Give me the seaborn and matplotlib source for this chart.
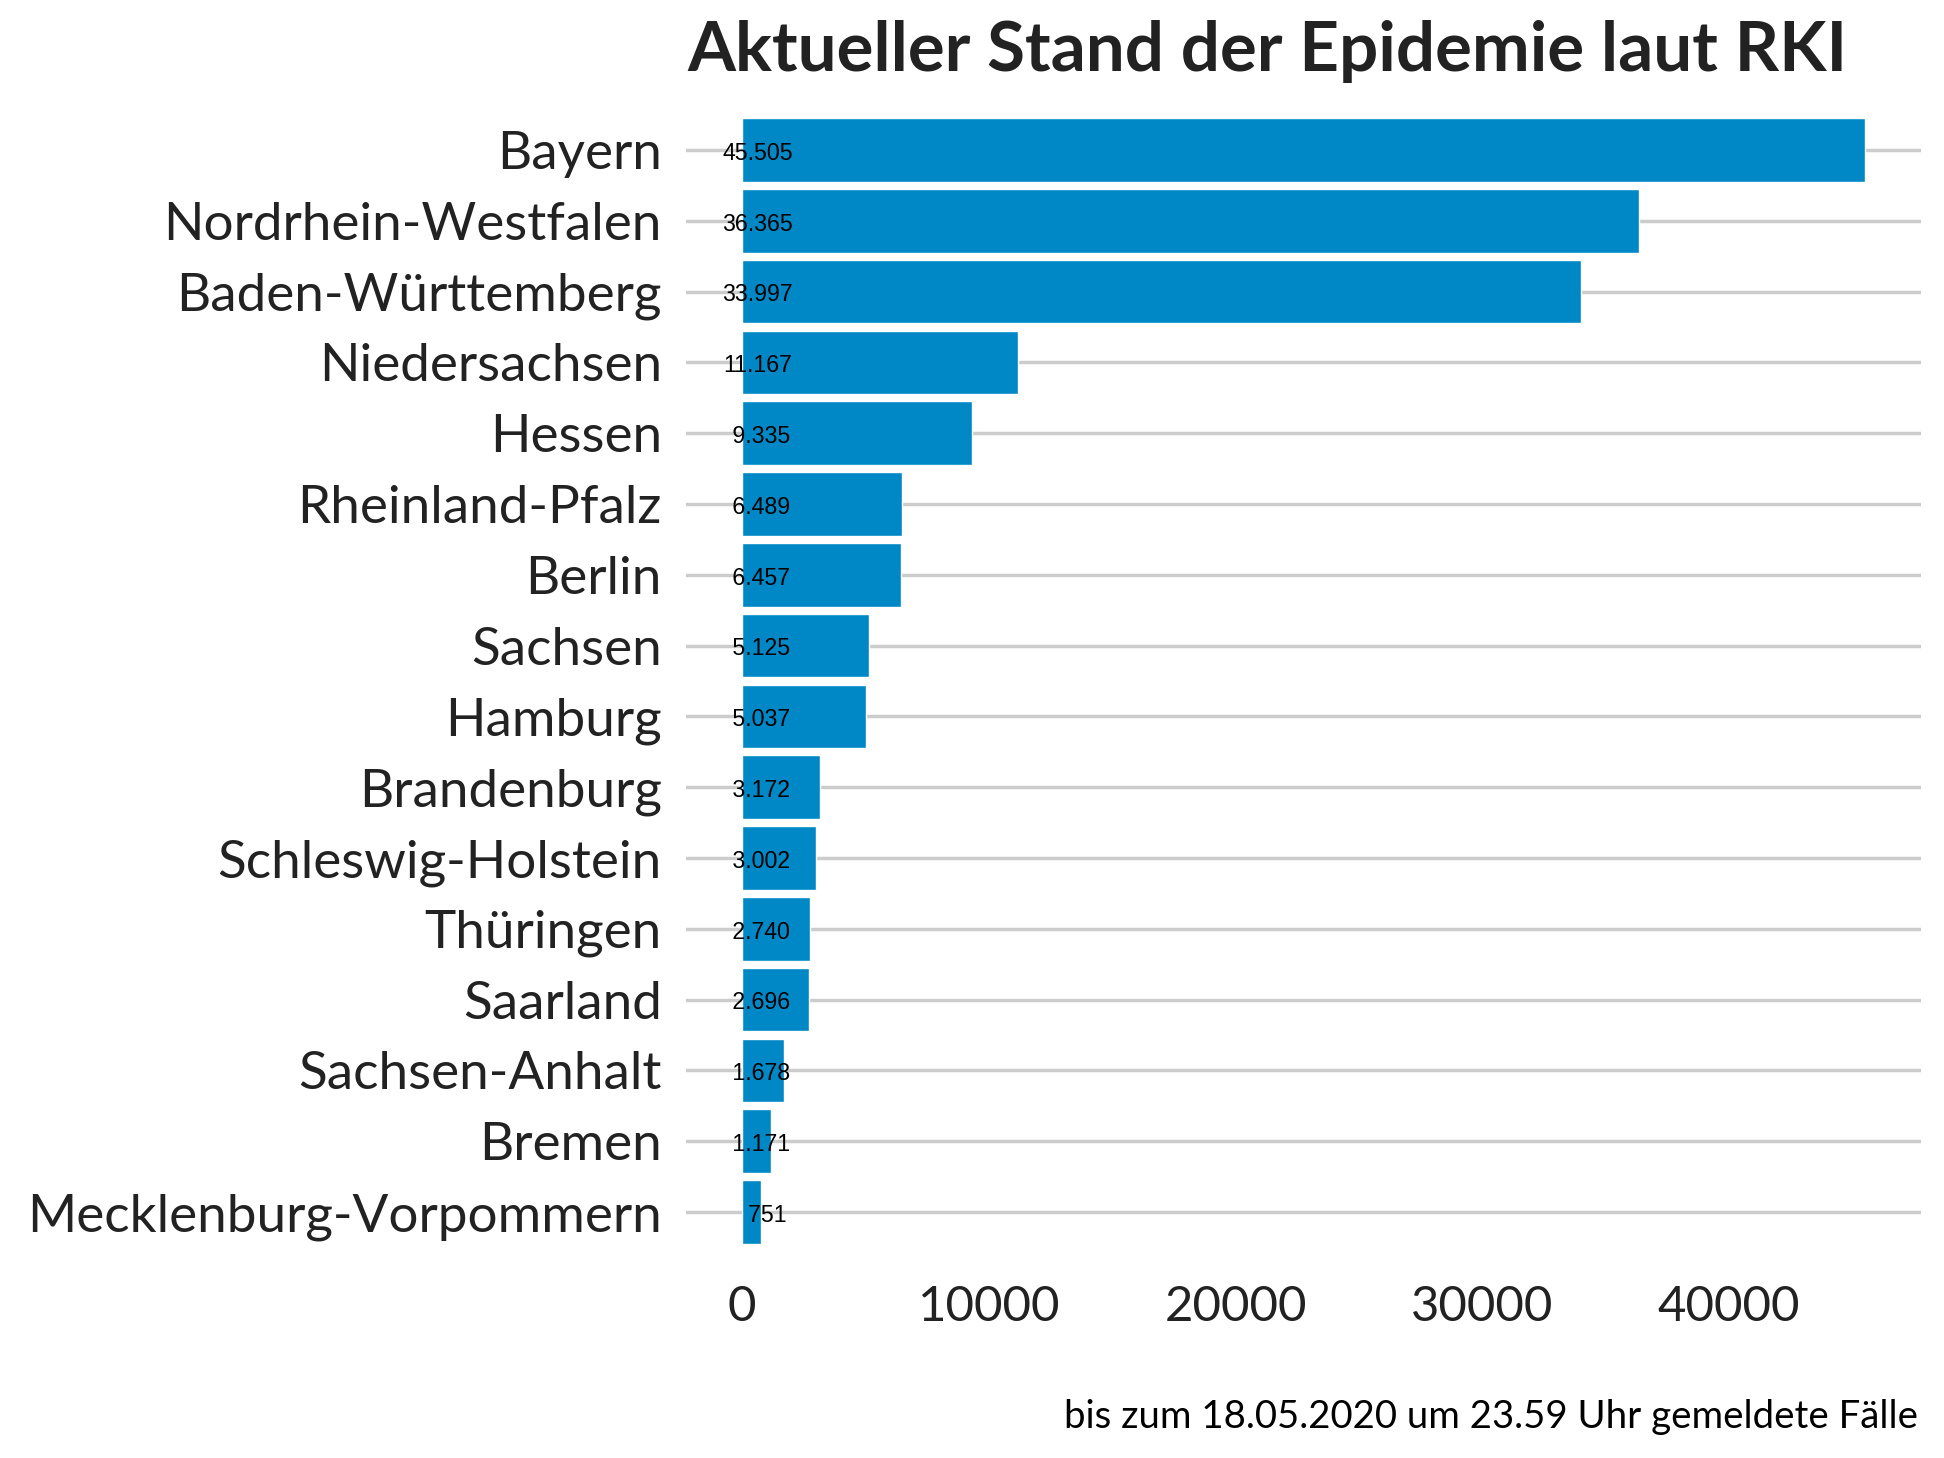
import matplotlib
matplotlib.use("Agg")
import matplotlib.pyplot as plt
import matplotlib.transforms as mtransforms
import seaborn as sns
import pandas as pd

# ---- data ----
states = ["Bayern", "Nordrhein-Westfalen", "Baden-Württemberg", "Niedersachsen",
          "Hessen", "Rheinland-Pfalz", "Berlin", "Sachsen", "Hamburg",
          "Brandenburg", "Schleswig-Holstein", "Thüringen", "Saarland",
          "Sachsen-Anhalt", "Bremen", "Mecklenburg-Vorpommern"]
cases = [45505, 36365, 33997, 11167, 9335, 6489, 6457, 5125, 5037,
         3172, 3002, 2740, 2696, 1678, 1171, 751]
x_ticks = [0, 10000, 20000, 30000, 40000]
title_text = "Aktueller Stand der Epidemie laut RKI"
caption_text = "bis zum 18.05.2020 um 23.59 Uhr gemeldete Fälle"

df = pd.DataFrame({"state": states, "cases": cases})

sns.set_style("white")
plt.rcParams["font.family"] = ["Lato", "DejaVu Sans"]

W, H = 1944, 1458
fig = plt.figure(figsize=(W / 100, H / 100), dpi=100)

# panel in pixel coordinates (from top-left)
pl, pr, pt, pb = 686, 1921, 107.5, 1254.5
ax = fig.add_axes([pl / W, 1 - pb / H, (pr - pl) / W, (pb - pt) / H])

bar_color = "#0088c6"
sns.barplot(data=df, x="cases", y="state", color=bar_color, width=0.9,
            errorbar=None, ax=ax, saturation=1)

n = len(states)
span = max(cases)
ax.set_xlim(-0.05 * span, span * 1.05)
ax.set_ylim(n - 1 + 0.6, -0.6)

ax.set_axisbelow(True)
ax.grid(False)
ax.yaxis.grid(True, color="#cccccc", linewidth=2.5)
for s in ax.spines.values():
    s.set_visible(False)

ax.set_xlabel("")
ax.set_ylabel("")
ax.set_xticks(x_ticks)
ax.set_xticklabels([str(t) for t in x_ticks])
ax.tick_params(axis="both", length=0, colors="#222222")
ax.tick_params(axis="y", pad=17.3)
ax.tick_params(axis="x", pad=22)

# value labels (German thousands separator, padded to equal width)
labels = [f"{v:,}".replace(",", ".") for v in cases]
wmax = max(len(s) for s in labels)
lab_trans = mtransforms.offset_copy(ax.transData, fig=fig, x=0, y=-7.1,
                                    units="points")
for i, (v, s) in enumerate(zip(cases, labels)):
    ax.text(632, i, s.rjust(wmax), ha="center", va="baseline",
            fontsize=16.7, family=["Liberation Sans", "DejaVu Sans"],
            color="black", zorder=4, transform=lab_trans)

title = fig.text(687 / W, 1 - 71 / H, title_text, ha="left", va="baseline",
                 fontsize=40, fontweight="bold", color="#222222")
caption = fig.text(1918 / W, 1 - 1428 / H, caption_text, ha="right",
                   va="baseline", fontsize=24, color="black")

# fit font sizes to the reference widths
fig.canvas.draw()
r = fig.canvas.get_renderer()

def fit(t, target):
    bb = t.get_window_extent(r)
    t.set_fontsize(t.get_fontsize() * target / bb.width)

fit(title, 1161)
fit(caption, 855)

ylabs = ax.get_yticklabels()
longest = max(ylabs, key=lambda t: t.get_window_extent(r).width)
ysize = longest.get_fontsize() * 636 / longest.get_window_extent(r).width
for t in ylabs:
    t.set_fontsize(ysize)
    t.set_color("#222222")

xlabs = ax.get_xticklabels()
lab40 = xlabs[-1]
xsize = lab40.get_fontsize() * 142 / lab40.get_window_extent(r).width
for t in xlabs:
    t.set_fontsize(xsize)
    t.set_color("#222222")

fig.savefig("out.png", dpi=100, facecolor="white")
